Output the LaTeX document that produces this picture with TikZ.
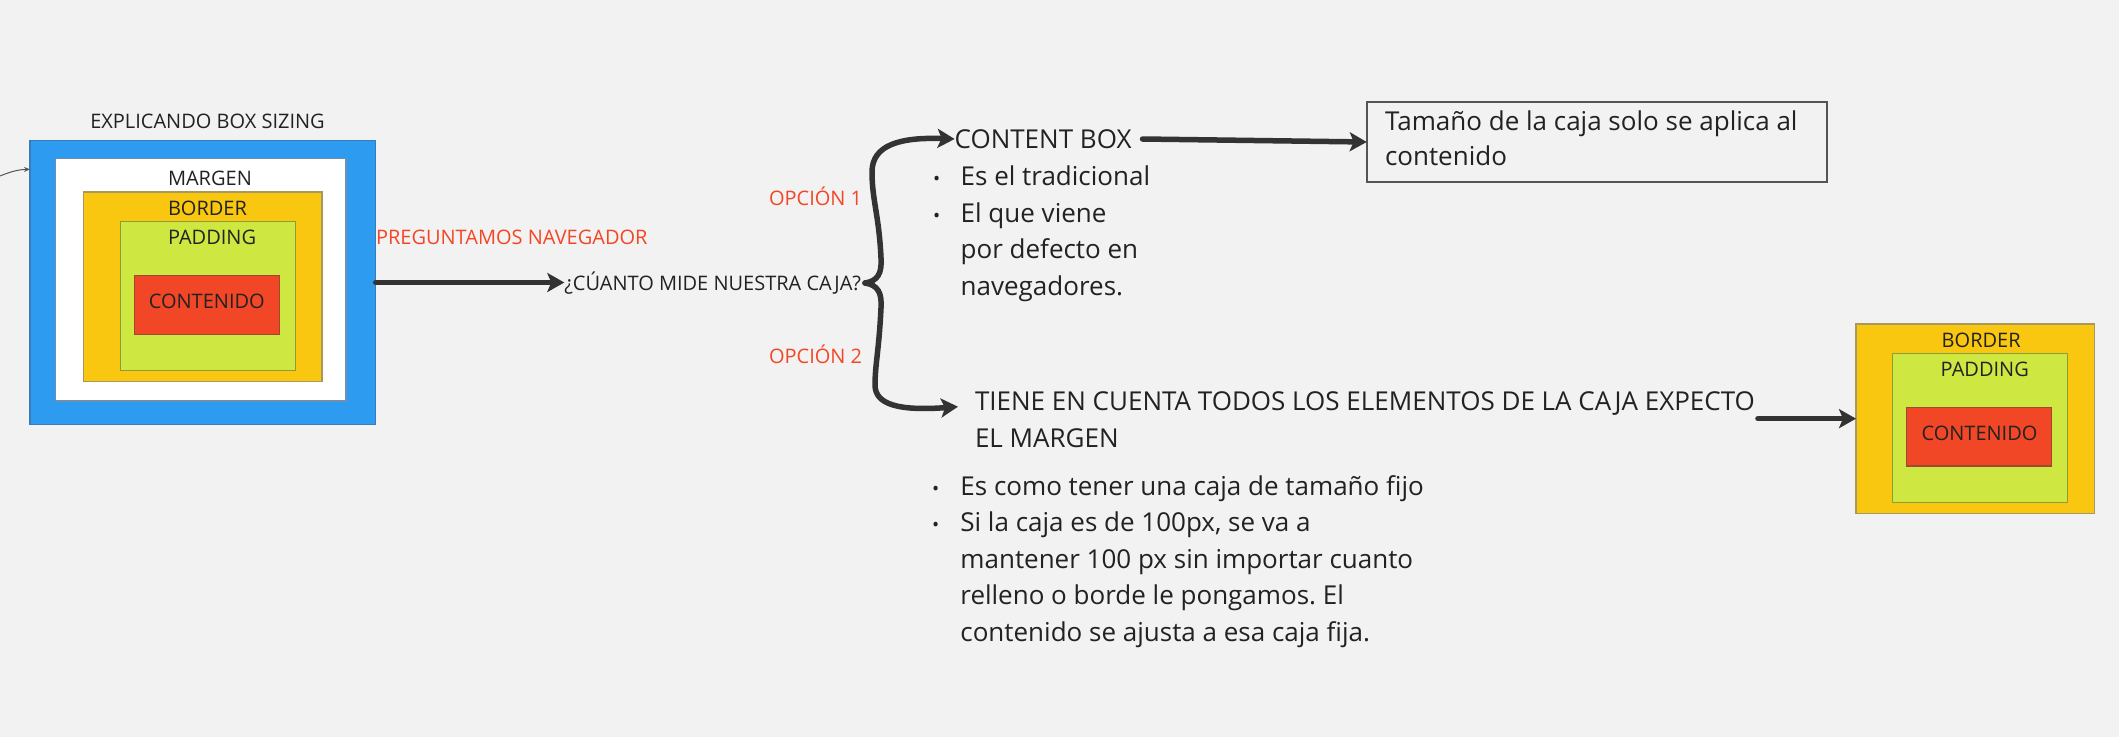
\documentclass[tikz,border=0pt]{standalone}
\usepackage{fontspec}
\setmainfont{Open Sans}
\frenchspacing
\usetikzlibrary{arrows.meta,calc}
\definecolor{bg}{HTML}{F2F2F2}
\definecolor{txt}{HTML}{222222}
\definecolor{ln}{HTML}{333333}
\definecolor{cred}{HTML}{F24726}
\definecolor{cblue}{HTML}{2D9BF0}
\definecolor{cblueD}{HTML}{3A7BBF}
\definecolor{cyel}{HTML}{FAC710}
\definecolor{cyelD}{HTML}{A8975E}
\definecolor{cgrn}{HTML}{CEE741}
\definecolor{cgrnD}{HTML}{8C9B3E}
\definecolor{credD}{HTML}{9E4A32}
\definecolor{whD}{HTML}{6F8FB2}
\definecolor{boxD}{HTML}{555555}
\begin{document}
\begin{tikzpicture}[x=1pt,y=-1pt,
  box/.style={rectangle, inner sep=0pt, outer sep=0pt, line width=1.3pt},
  lbl/.style={font=\fontsize{20}{24}\selectfont, text=txt, inner sep=0pt, outer sep=0pt, anchor=base west},
  big/.style={font=\fontsize{26}{36}\selectfont, text=txt, inner sep=0pt, outer sep=0pt, align=left, anchor=base west},
  bul/.style={font=\fontsize{19}{24}\selectfont, text=txt, inner sep=0pt, anchor=base},
  conn/.style={line width=5.5pt, draw=ln, line cap=round, -{Stealth[length=17pt,width=19pt,inset=4pt]}},
  thin/.style={line width=1pt, draw=boxD, -{Stealth[length=6pt,width=5pt]}}]
\useasboundingbox[fill=bg] (0,0) rectangle (2119,737);

% left nested boxes
\node[box, fill=cblue, draw=cblueD, minimum width=345.7pt, minimum height=283.6pt] (blue) at (202.85,282.5) {};
\node[box, fill=white, draw=whD, minimum width=290.3pt, minimum height=242.3pt] (white) at (200.85,279.85) {};
\node[box, fill=cyel, draw=cyelD, minimum width=238.7pt, minimum height=189.7pt] (yel) at (202.65,286.85) {};
\node[box, fill=cgrn, draw=cgrnD, minimum width=175pt, minimum height=149pt] (grn) at (207.8,296.2) {};
\node[box, fill=cred, draw=credD, minimum width=145pt, minimum height=59pt] (red) at (206.8,304.8) {};

\node[lbl, anchor=base] (title) at (207.5,128.3) {EXPLICANDO BOX SIZING};
\node[lbl] (lmargen) at (168,185) {MARGEN};
\node[lbl] (lborder) at (168,215) {BORDER};
\node[lbl] (lpadding) at (168,244) {PADDING};
\node[lbl, anchor=base] (lcont) at (206.8,308.3) {CONTENIDO};

% incoming thin arrow
\coordinate (ext) at (0,176);
\draw[thin] (ext) .. controls (12,171) and (20,169.5) .. ($(blue.north west)+(0,28.6)$);

% question
\node[lbl, text=cred] (preg) at (376,244.3) {PREGUNTAMOS NAVEGADOR};
\node[lbl] (q) at (564.3,290) {¿CÚANTO MIDE NUESTRA CAJA?};
\draw[conn] (blue.east) -- (q.west |- blue.east);

\node[lbl, text=cred] (op1) at (769,205) {OPCIÓN 1};
\node[lbl, text=cred] (op2) at (769,363.5) {OPCIÓN 2};

% option 1 (multi-line nodes: base = last line)
\node[big] (cb) at (954.6,148.3) {CONTENT BOX};
\node[bul] (bu1) at (936.7,185.7) {•};
\node[big] (cb1) at (960.7,185.7) {Es el tradicional};
\node[bul] (bu2) at (936.7,222.3) {•};
\node[big, font=\fontsize{26}{36.6}\selectfont] (cb2) at (960.7,295.5) {El que viene\\por defecto en\\navegadores.};

% option 2
\node[big, font=\fontsize{26}{37.3}\selectfont] (tiene) at (975,447.3) {TIENE EN CUENTA TODOS LOS ELEMENTOS DE LA CAJA EXPECTO\\EL MARGEN};
\node[bul] (bu3) at (935.7,495) {•};
\node[big] (b1) at (960.4,495) {Es como tener una caja de tamaño fijo};
\node[bul] (bu4) at (935.7,531.7) {•};
\node[big, font=\fontsize{26}{36.5}\selectfont] (b2) at (960.4,641.2) {Si la caja es de 100px, se va a\\mantener 100 px sin importar cuanto\\relleno o borde le pongamos. El\\contenido se ajusta a esa caja fija.};

% brace
\coordinate (bt) at (865,283);
\coordinate (t2) at (958,406.7);
\draw[conn] (bt) .. controls (878,281) and (882,273) .. (881,258)
  .. controls (879,215) and (872,200) .. (872,172)
  .. controls (872,145) and (900,137) .. (cb.west);
\draw[conn] (bt) .. controls (878,285) and (882,293) .. (881,308)
  .. controls (879,350) and (875,365) .. (875,385)
  .. controls (875,405) and (900,411) .. (t2);

% content box result
\node[box, draw=boxD, line width=1.8pt, minimum width=460pt, minimum height=79.4pt] (tam) at (1596.7,142) {};
\node[big, font=\fontsize{26}{34.3}\selectfont] (tamt) at (1385,165) {Tamaño de la caja solo se aplica al\\contenido};
\draw[conn] ($(cb.east)+(11,0)$) -- (tam.west);

% right nested boxes
\node[box, fill=cyel, draw=cyelD, minimum width=238.3pt, minimum height=189.3pt] (ryel) at (1975.15,418.65) {};
\node[box, fill=cgrn, draw=cgrnD, minimum width=175.4pt, minimum height=149.4pt] (rgrn) at (1980,428) {};
\node[box, fill=cred, draw=credD, minimum width=145pt, minimum height=58.7pt] (rred) at (1979.2,436.65) {};
\node[lbl] (rborder) at (1941.7,347.3) {BORDER};
\node[lbl] (rpadding) at (1940.7,376) {PADDING};
\node[lbl, anchor=base] (rcont) at (1979.5,440.7) {CONTENIDO};

\draw[conn] ($(tiene.east |- ryel.west)+(3,0)$) -- (ryel.west);
\end{tikzpicture}
\end{document}
